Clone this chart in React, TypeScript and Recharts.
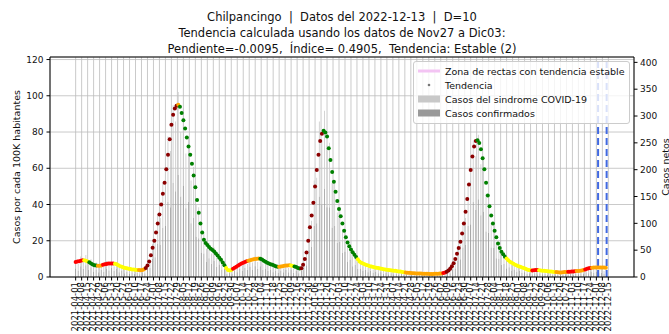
import {
  ComposedChart,
  Bar,
  Scatter,
  XAxis,
  YAxis,
  CartesianGrid,
  ReferenceLine,
  Legend,
  Label,
} from "recharts";

const FONT = "'DejaVu Sans', sans-serif";

// day 0 = 2021-04-01
const START = Date.UTC(2021, 3, 1);
const TREND_STEP = 2; // days between trend points
const BAR_STEP = 3; // days between bars
const LEFT_MAX = 121.4;
const RIGHT_MAX = 410;
const X_DOMAIN: [number, number] = [-30, 653];

const titleLines = [
  "Chilpancingo  |  Datos del 2022-12-13  |  D=10",
  "Tendencia calculada usando los datos de Nov27 a Dic03:",
  "Pendiente=-0.0095,  Índice= 0.4905,  Tendencia: Estable (2)",
];

// casos por cada 100K habitantes (eje izquierdo), un punto cada 2 dias
const trendValues = [
  8.3, 8.5, 8.7, 9.0, 9.2, 9.2, 9.0, 8.6, 8.1, 7.5,
  6.9, 6.5, 6.3, 6.2, 6.2, 6.4, 6.7, 7.0, 7.2, 7.4,
  7.5, 7.5, 7.4, 7.3, 7.0, 6.5, 6.0, 5.6, 5.3, 5.0,
  4.8, 4.6, 4.4, 4.2, 4.1, 4.0, 3.9, 3.8, 3.7, 3.8,
  4.3, 5.0, 6.3, 8.5, 12.0, 16.2, 20.0, 24.5, 29.5, 34.5,
  40.0, 46.0, 52.0, 59.5, 67.5, 76.0, 84.0, 89.5, 93.0, 94.5,
  95.0, 94.0, 90.5, 86.5, 82.0, 77.0, 72.0, 67.5, 62.5, 56.0,
  49.5, 42.5, 35.5, 29.5, 24.5, 20.5, 18.8, 17.6, 16.5, 15.6,
  14.9, 14.1, 13.0, 11.8, 10.6, 9.5, 8.0, 6.5, 5.0, 3.9,
  3.6, 3.9, 4.5, 5.1, 5.7, 6.3, 6.9, 7.4, 7.9, 8.3,
  8.7, 9.0, 9.2, 9.5, 9.8, 10.0, 10.1, 10.2, 10.1, 9.6,
  9.0, 8.4, 7.9, 7.5, 7.1, 6.7, 6.3, 5.9, 5.6, 5.6,
  5.8, 6.0, 6.2, 6.3, 6.4, 6.5, 6.4, 6.1, 5.8, 5.5,
  5.0, 4.7, 4.8, 6.8, 10.0, 13.5, 20.0, 27.5, 34.0, 41.0,
  50.0, 59.0, 67.5, 75.0, 79.0, 80.7, 79.8, 77.5, 71.0, 64.5,
  58.0, 52.5, 47.0, 42.0, 37.5, 33.5, 29.5, 25.5, 22.0, 19.0,
  17.0, 15.2, 13.6, 12.3, 11.0, 9.8, 8.6, 7.9, 7.4, 7.0,
  6.6, 6.3, 6.0, 5.8, 5.5, 5.3, 5.1, 4.9, 4.7, 4.5,
  4.3, 4.2, 4.0, 3.9, 3.7, 3.6, 3.5, 3.4, 3.2, 3.1,
  3.0, 2.8, 2.6, 2.5, 2.4, 2.3, 2.2, 2.1, 2.1, 2.0,
  2.0, 1.9, 1.9, 1.8, 1.8, 1.8, 1.8, 1.7, 1.7, 1.7,
  1.8, 1.8, 1.8, 1.9, 2.0, 2.2, 2.5, 2.9, 3.6, 4.6,
  6.0, 7.6, 10.0, 12.8, 16.0, 19.5, 24.0, 29.5, 36.0, 43.0,
  51.0, 59.0, 66.5, 72.0, 75.0, 75.5, 74.0, 70.5, 65.5, 59.5,
  52.0, 45.0, 39.0, 34.0, 29.5, 25.5, 22.0, 18.5, 16.0, 14.0,
  12.5, 11.2, 10.2, 9.2, 8.4, 7.8, 7.3, 6.8, 6.4, 6.0,
  5.6, 5.2, 4.9, 4.5, 4.2, 3.9, 3.7, 3.6, 3.7, 3.8,
  3.8, 3.7, 3.6, 3.5, 3.4, 3.3, 3.2, 3.1, 3.0, 2.9,
  2.8, 2.7, 2.6, 2.5, 2.5, 2.6, 2.7, 2.8, 2.9, 2.9,
  3.0, 3.1, 3.2, 3.3, 3.3, 3.4, 3.6, 3.9, 4.2, 4.5,
  4.8, 5.0, 5.1, 5.2, 5.3, 5.3, 5.3, 5.2, 5.2, 5.2,
  5.1,
];

// color class of the trend, starting day of each stretch
const trendColorStart = [
  0, 9, 15, 25, 32, 45, 73, 81, 119, 122, 176, 183, 201, 216, 237, 251,
  256, 263, 290, 330, 386, 429, 434, 469, 504, 534, 541, 561, 576, 585, 596, 603,
];
const trendColorCode = [
  "R", "Y", "G", "O", "R", "Y", "O", "D", "O", "G", "Y", "R", "O", "G", "O", "Y",
  "G", "D", "G", "Y", "O", "R", "D", "G", "Y", "R", "Y", "O", "R", "O", "R", "O",
];
const TREND_COLORS: Record<string, string> = {
  R: "#ff0000",
  Y: "#ffff00",
  G: "#008000",
  O: "#ffa500",
  D: "#8b0000",
};

// casos netos (eje derecho), una barra cada 3 dias
const sindromeCases = [
  30, 24, 38, 28, 41, 26, 33, 20, 27, 18,
  25, 19, 30, 22, 31, 20, 28, 17, 22, 14,
  19, 12, 17, 11, 15, 10, 16, 12, 28, 30,
  62, 66, 118, 110, 175, 168, 262, 235, 320, 290,
  345, 270, 315, 230, 262, 180, 205, 135, 130, 80,
  82, 52, 64, 44, 55, 36, 42, 26, 28, 12,
  15, 11, 20, 16, 27, 21, 32, 24, 36, 27,
  38, 28, 37, 25, 30, 21, 26, 17, 22, 15,
  23, 16, 24, 17, 25, 15, 20, 13, 21, 35,
  42, 95, 105, 180, 185, 290, 255, 310, 245, 250,
  175, 180, 120, 125, 85, 88, 55, 60, 38, 43,
  28, 30, 20, 25, 17, 22, 14, 19, 13, 17,
  11, 15, 10, 14, 9, 12, 8, 11, 7, 9,
  6, 8, 5, 7, 5, 7, 4, 6, 4, 6,
  4, 6, 5, 7, 6, 12, 13, 26, 30, 55,
  60, 100, 110, 175, 180, 255, 225, 265, 210, 225,
  155, 150, 100, 100, 65, 64, 42, 44, 30, 33,
  23, 26, 18, 21, 14, 17, 11, 14, 10, 14,
  10, 13, 9, 12, 8, 11, 7, 10, 7, 9,
  7, 10, 8, 11, 8, 12, 9, 13, 11, 16,
  14, 19, 15, 18, 13, 16, 11, 6,
];
const confirmedCases = [
  16, 12, 20, 15, 22, 13, 18, 10, 14, 9,
  13, 10, 16, 12, 17, 11, 15, 9, 12, 7,
  10, 6, 9, 6, 8, 5, 9, 7, 15, 17,
  34, 37, 62, 60, 92, 95, 140, 130, 175, 160,
  190, 150, 170, 128, 140, 100, 110, 75, 72, 45,
  44, 28, 35, 24, 30, 19, 23, 14, 15, 6,
  8, 6, 11, 9, 15, 11, 17, 13, 19, 14,
  20, 15, 20, 13, 16, 11, 14, 9, 12, 8,
  12, 9, 13, 9, 13, 8, 11, 7, 11, 18,
  22, 50, 56, 95, 100, 150, 135, 165, 130, 130,
  92, 95, 64, 65, 45, 47, 29, 32, 20, 23,
  15, 16, 11, 13, 9, 12, 8, 10, 7, 9,
  6, 8, 5, 7, 5, 6, 4, 6, 4, 5,
  3, 4, 3, 4, 3, 4, 2, 3, 2, 3,
  2, 3, 3, 4, 3, 7, 7, 14, 16, 30,
  33, 55, 60, 95, 98, 140, 125, 145, 115, 122,
  85, 82, 55, 54, 35, 34, 23, 24, 16, 18,
  12, 14, 10, 11, 8, 9, 6, 7, 5, 7,
  5, 7, 5, 6, 4, 6, 4, 5, 4, 5,
  4, 5, 4, 6, 4, 6, 5, 7, 6, 9,
  7, 10, 8, 10, 7, 8, 6, 3,
];

// lineas de referencia (Dic03 y Dic13)
const markerDays = [611, 621];

const leftTicks = [0, 20, 40, 60, 80, 100, 120];
const rightTicks = [0, 50, 100, 150, 200, 250, 300, 350, 400];
const weekTicks = Array.from({ length: 90 }, (_, i) => i * 7);

const legendItems = [
  { label: "Zona de rectas con tendencia estable", kind: "line", color: "#f3c4f3" },
  { label: "Tendencia", kind: "dot", color: "#777777" },
  { label: "Casos del sindrome COVID-19", kind: "patch", color: "#c8c8c8" },
  { label: "Casos confirmados", kind: "patch", color: "#999999" },
];

function dayToDate(d: number) {
  return new Date(START + d * 86400000).toISOString().slice(0, 10);
}

function colorCodeAt(day: number) {
  let code = trendColorCode[0];
  trendColorStart.forEach((s, i) => {
    if (day >= s) code = trendColorCode[i];
  });
  return code;
}

const barRows = sindromeCases.map((s, i) => ({
  day: i * BAR_STEP,
  confirmados: confirmedCases[i],
  sindrome: s - confirmedCases[i],
}));

const trendPoints = trendValues.map((v, i) => ({
  day: i * TREND_STEP,
  v,
  c: colorCodeAt(i * TREND_STEP),
}));

function DateTick(props: any) {
  const { x, y, payload } = props;
  return (
    <text
      x={x}
      y={y}
      transform={`rotate(-90, ${x}, ${y})`}
      textAnchor="end"
      dy="0.33em"
      fontSize={8.5}
      fontFamily={FONT}
      fill="#111"
    >
      {dayToDate(payload.value)}
    </text>
  );
}

function LegendBox() {
  return (
    <div
      style={{
        boxSizing: "border-box",
        width: 217,
        border: "1px solid #cccccc",
        borderRadius: 3,
        background: "rgba(255,255,255,0.8)",
        padding: "2px 0 3px 4px",
        fontFamily: FONT,
        fontSize: 9.5,
        color: "#111",
      }}
    >
      {legendItems.map((it) => (
        <div key={it.label} style={{ display: "flex", alignItems: "center", height: 14 }}>
          <svg width={22} height={14} style={{ marginRight: 5 }}>
            {it.kind === "line" && <rect x={0} y={5.5} width={22} height={3} fill={it.color} />}
            {it.kind === "dot" && <circle cx={11} cy={7} r={1.3} fill={it.color} />}
            {it.kind === "patch" && <rect x={0} y={3.5} width={22} height={7} fill={it.color} />}
          </svg>
          <span style={{ whiteSpace: "nowrap" }}>{it.label}</span>
        </div>
      ))}
    </div>
  );
}

export default function App() {
  const tickStyle = { fontSize: 9, fill: "#111", fontFamily: FONT };
  return (
    <div style={{ position: "absolute", left: 0, top: 0, width: 669, height: 334, background: "#fff" }}>
      <div style={{ position: "absolute", left: 0, top: 0 }}>
        <ComposedChart
          width={669}
          height={334}
          data={barRows}
          margin={{ top: 57, right: 0, bottom: 0, left: 0 }}
        >
          <CartesianGrid xAxisId="x" yAxisId="left" stroke="#bdbdbd" strokeWidth={0.8} />
          <XAxis
            xAxisId="x"
            dataKey="day"
            type="number"
            domain={X_DOMAIN}
            allowDataOverflow
            ticks={weekTicks}
            interval={0}
            height={57}
            tick={<DateTick />}
            tickSize={3.5}
            tickMargin={1.5}
            axisLine={{ stroke: "#000" }}
            tickLine={{ stroke: "#000" }}
          />
          <YAxis
            yAxisId="left"
            orientation="left"
            type="number"
            domain={[0, LEFT_MAX]}
            allowDataOverflow
            ticks={leftTicks}
            interval={0}
            width={50}
            tick={tickStyle}
            tickSize={3.5}
            tickMargin={3}
            axisLine={{ stroke: "#000" }}
            tickLine={{ stroke: "#000" }}
          >
            <Label
              content={() => (
                <text
                  x={16}
                  y={167}
                  transform="rotate(-90, 16, 167)"
                  textAnchor="middle"
                  dominantBaseline="central"
                  fontSize={9.5}
                  fontFamily={FONT}
                  fill="#111"
                >
                  Casos por cada 100K habitantes
                </text>
              )}
            />
          </YAxis>
          <YAxis
            yAxisId="right"
            orientation="right"
            type="number"
            domain={[0, RIGHT_MAX]}
            allowDataOverflow
            ticks={rightTicks}
            interval={0}
            width={35}
            tick={tickStyle}
            tickSize={3.5}
            tickMargin={2.5}
            axisLine={{ stroke: "#000" }}
            tickLine={{ stroke: "#000" }}
          >
            <Label
              content={() => (
                <text
                  x={665}
                  y={167}
                  transform="rotate(-90, 665, 167)"
                  textAnchor="middle"
                  dominantBaseline="central"
                  fontSize={9.5}
                  fontFamily={FONT}
                  fill="#111"
                >
                  Casos netos
                </text>
              )}
            />
          </YAxis>
          <Bar
            xAxisId="x"
            yAxisId="right"
            dataKey="confirmados"
            stackId="casos"
            fill="#999999"
            barSize={2.5}
            isAnimationActive={false}
          />
          <Bar
            xAxisId="x"
            yAxisId="right"
            dataKey="sindrome"
            stackId="casos"
            fill="#c8c8c8"
            barSize={2.5}
            isAnimationActive={false}
          />
          <Scatter
            xAxisId="x"
            yAxisId="left"
            data={trendPoints}
            dataKey="v"
            isAnimationActive={false}
            shape={(p: any) => (
              <circle cx={p.cx} cy={p.cy} r={2} fill={TREND_COLORS[p.payload.c]} />
            )}
          />
          {markerDays.map((d) => (
            <ReferenceLine
              key={d}
              xAxisId="x"
              yAxisId="left"
              x={d}
              stroke="#4169e1"
              strokeWidth={2}
              strokeDasharray="7 4"
            />
          ))}
          <ReferenceLine xAxisId="x" yAxisId="left" y={LEFT_MAX} stroke="#000" strokeWidth={1} />
          <Legend
            layout="vertical"
            align="center"
            verticalAlign="middle"
            wrapperStyle={{ left: 413, top: 61, width: 217 }}
            content={() => <LegendBox />}
          />
        </ComposedChart>
      </div>
      <div
        style={{
          position: "absolute",
          left: 0,
          top: 9,
          width: 684,
          textAlign: "center",
          fontFamily: FONT,
          fontSize: 11.5,
          lineHeight: "16px",
          color: "#111",
          whiteSpace: "pre",
        }}
      >
        {titleLines.map((t) => (
          <div key={t}>{t}</div>
        ))}
      </div>
    </div>
  );
}
